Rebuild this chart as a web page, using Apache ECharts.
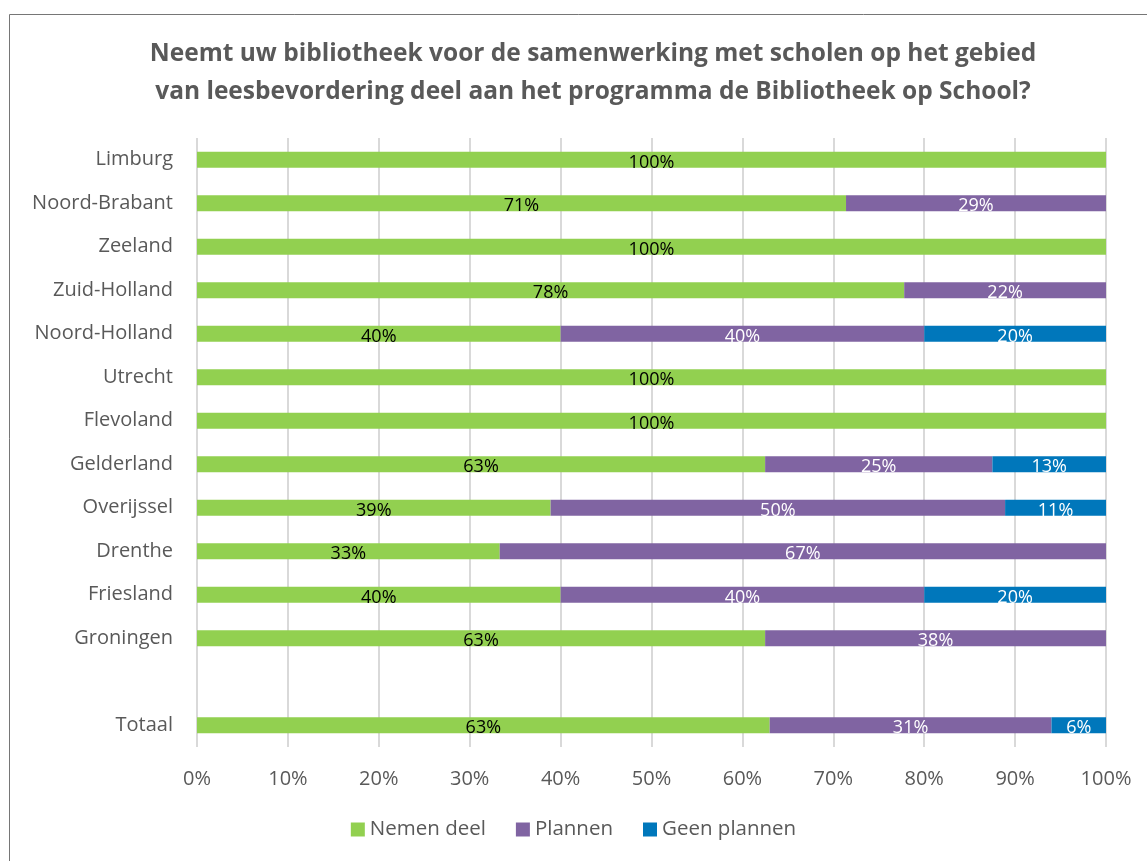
<!DOCTYPE html>
<html>
<head>
<meta charset="utf-8">
<script src="https://cdn.jsdelivr.net/npm/echarts@6/dist/echarts.min.js"></script>
<style>
html,body{margin:0;padding:0;background:#fff;}
#c{width:1147px;height:861px;}
</style>
</head>
<body>
<div id="c"></div>
<script>
const categories = ['Limburg','Noord-Brabant','Zeeland','Zuid-Holland','Noord-Holland','Utrecht','Flevoland','Gelderland','Overijssel','Drenthe','Friesland','Groningen','','Totaal'];
const nemenDeel   = [100, 71.4, 100, 77.8, 40, 100, 100, 62.5, 38.9, 33.3, 40, 62.5, null, 63];
const plannen     = [null, 28.6, null, 22.2, 40, null, null, 25, 50, 66.7, 40, 37.5, null, 31];
const geenPlannen = [null, null, null, null, 20, null, null, 12.5, 11.1, null, 20, null, null, 6];
const xTicks = ['0%','10%','20%','30%','40%','50%','60%','70%','80%','90%','100%'];
const seriesNames = ['Nemen deel','Plannen','Geen plannen'];

const FONT = 'Open Sans';
const chart = echarts.init(document.getElementById('c'));
function mk(name, data, color, labelColor){
  return {
    name, type:'bar', stack:'t', data, barWidth:16,
    itemStyle:{color},
    label:{show:true, position:'inside', color:labelColor, fontFamily:FONT, fontSize:18,
      offset:[0,3],
      formatter:p=> (p.value==null ? '' : Math.round(p.value)+'%')}
  };
}
chart.setOption({
  animation:false,
  textStyle:{fontFamily:FONT},
  title:{
    text:'Neemt uw bibliotheek voor de samenwerking met scholen op het gebied\nvan leesbevordering deel aan het programma de Bibliotheek op School?',
    left:588, top:30,
    textAlign:'center',
    textStyle:{fontFamily:FONT, fontSize:24.5, fontWeight:'bold', color:'#595959', lineHeight:38}
  },
  graphic:[{type:'rect', shape:{x:9.5,y:14.5,width:1160,height:880}, style:{fill:'none', stroke:'#767676', lineWidth:1}, silent:true}],
  legend:{
    bottom:16, left:'center', itemWidth:14, itemHeight:14, itemGap:30,
    icon:'rect',
    textStyle:{fontFamily:FONT, fontSize:20.5, color:'#595959'},
    data:seriesNames
  },
  grid:{left:197, right:41, top:138, bottom:114, containLabel:false},
  xAxis:{
    type:'value', min:0, max:100, interval:10,
    axisLabel:{fontFamily:FONT, fontSize:20, color:'#595959', margin:22,
      formatter:(v)=>xTicks[Math.round(v/10)]},
    axisLine:{show:false}, axisTick:{show:false},
    splitLine:{lineStyle:{color:'#d9d9d9', width:2}}
  },
  yAxis:{
    type:'category', data:categories, inverse:true,
    axisLabel:{fontFamily:FONT, fontSize:20, color:'#595959', margin:24},
    axisLine:{show:false}, axisTick:{show:false}
  },
  series:[
    mk(seriesNames[0], nemenDeel, '#92D050', '#000000'),
    mk(seriesNames[1], plannen, '#8064A2', '#ffffff'),
    mk(seriesNames[2], geenPlannen, '#0077BB', '#ffffff')
  ]
});
</script>
</body>
</html>
